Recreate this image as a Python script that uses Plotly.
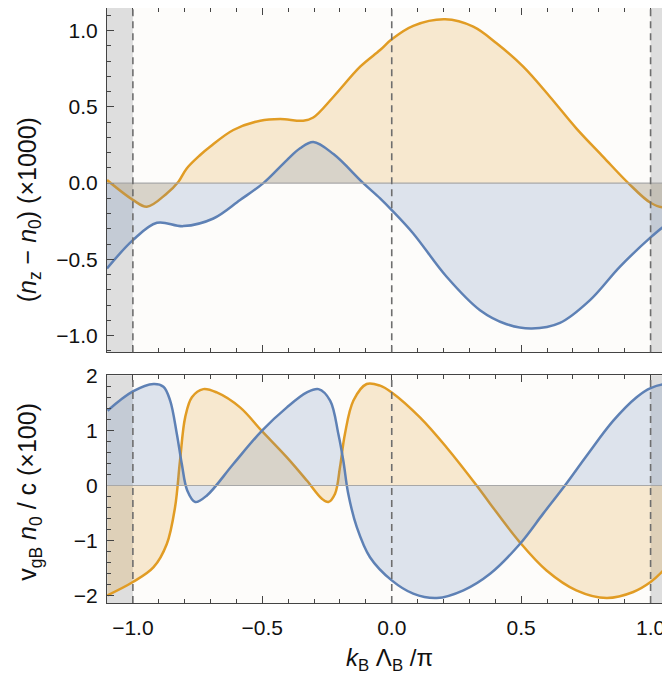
import plotly.graph_objects as go

# ---- data ----
# top panel: (n_z - n_0) x1000
top_orange_x = [-1.1, -1.0, -0.946, -0.869, -0.824, -0.792, -0.74, -0.702, -0.612, -0.508, -0.431,
                -0.342, -0.303, -0.225, -0.122, -0.045, 0.0, 0.083, 0.206, 0.315, 0.405, 0.508,
                0.611, 0.713, 0.817, 0.914, 1.0, 1.055, 1.075]
top_orange_y = [0.02, -0.11, -0.155, -0.068, 0.009, 0.096, 0.184, 0.238, 0.348, 0.409, 0.42,
                0.409, 0.43, 0.566, 0.763, 0.872, 0.942, 1.03, 1.073, 1.025, 0.916, 0.763,
                0.566, 0.359, 0.172, 0.0, -0.129, -0.16, -0.145]

top_blue_x = [-1.1, -1.0, -0.907, -0.805, -0.689, -0.586, -0.496, -0.405, -0.354, -0.303, -0.225,
              -0.11, -0.045, 0.0, 0.083, 0.212, 0.341, 0.444, 0.541, 0.65, 0.766, 0.881,
              1.0, 1.049, 1.075]
top_blue_y = [-0.56, -0.374, -0.26, -0.282, -0.232, -0.111, 0.0, 0.151, 0.228, 0.269, 0.19,
              0.0, -0.1, -0.177, -0.33, -0.614, -0.833, -0.925, -0.953, -0.916, -0.767,
              -0.549, -0.356, -0.287, -0.26]

# bottom panel: v_gB n_0 / c x100
bot_blue_x = [-1.098, -1.0, -0.92, -0.882, -0.856, -0.83, -0.811, -0.79, -0.759, -0.714, -0.612,
              -0.502, -0.405, -0.328, -0.283, -0.238, -0.206, -0.187, -0.168, -0.135, -0.084, 0.0,
              0.083, 0.174, 0.277, 0.38, 0.495, 0.585, 0.669, 0.753, 0.856, 0.946, 1.0, 1.062, 1.075]
bot_blue_y = [1.356, 1.705, 1.84, 1.79, 1.54, 0.93, 0.39, -0.09, -0.30, -0.18, 0.39,
              0.99, 1.416, 1.687, 1.747, 1.54, 0.93, 0.45, -0.15, -0.754, -1.30, -1.72,
              -1.96, -2.04, -1.90, -1.60, -1.06, -0.51, 0.0, 0.54, 1.175, 1.60, 1.765, 1.84, 1.83]

bot_orange_x = [-1.098, -1.0, -0.92, -0.869, -0.837, -0.818, -0.798, -0.772, -0.728, -0.676, -0.586,
                -0.502, -0.405, -0.328, -0.27, -0.245, -0.219, -0.2, -0.181, -0.148, -0.097, -0.045,
                0.0, 0.109, 0.212, 0.328, 0.38, 0.495, 0.598, 0.713, 0.83, 0.933, 1.0, 1.049, 1.075]
bot_orange_y = [-1.99, -1.75, -1.48, -1.06, -0.39, 0.45, 1.235, 1.60, 1.747, 1.687, 1.416,
                0.99, 0.51, 0.09, -0.24, -0.30, -0.15, 0.33, 0.93, 1.54, 1.84, 1.81,
                1.687, 1.235, 0.69, 0.0, -0.33, -1.03, -1.54, -1.90, -2.04, -1.93, -1.75, -1.54, -1.39]

x_ticks = [-1.0, -0.5, 0.0, 0.5, 1.0]
top_y_ticks = [-1.0, -0.5, 0.0, 0.5, 1.0]
bot_y_ticks = [-2, -1, 0, 1, 2]
dashed_x = [-1.0, 0.0, 1.0]

# ---- style ----
BLUE = "#5E81B5"
ORANGE = "#E19C24"
BLUE_FILL = "rgba(94,129,181,0.2)"
ORANGE_FILL = "rgba(225,156,36,0.2)"
XR = [-1.1, 1.075]
FONT = "Liberation Sans, Arial, sans-serif"

fig = go.Figure()

def add(x, y, color, fill, xa, ya):
    fig.add_trace(go.Scatter(x=x, y=y, mode="lines", xaxis=xa, yaxis=ya,
                             line=dict(color=color, width=2.5, shape="spline", smoothing=1.0),
                             fill="tozeroy", fillcolor=fill, hoverinfo="skip", showlegend=False))

add(top_orange_x, top_orange_y, ORANGE, ORANGE_FILL, "x", "y")
add(top_blue_x, top_blue_y, BLUE, BLUE_FILL, "x", "y")
add(bot_orange_x, bot_orange_y, ORANGE, ORANGE_FILL, "x2", "y2")
add(bot_blue_x, bot_blue_y, BLUE, BLUE_FILL, "x2", "y2")

shapes = []
for xr, yr in [("x", "y"), ("x2", "y2")]:
    for x0, x1 in [(-1.2, -1.0), (1.0, 1.2)]:
        shapes.append(dict(type="rect", xref=xr, yref=yr + " domain", x0=x0, x1=x1, y0=0, y1=1,
                           fillcolor="#DEDEDE", line=dict(width=0), layer="below"))
    shapes.append(dict(type="line", xref=xr + " domain", yref=yr, x0=0, x1=1, y0=0, y1=0,
                       line=dict(color="#A8A8A8", width=1.2), layer="above"))
    for xv in dashed_x:
        shapes.append(dict(type="line", xref=xr, yref=yr + " domain", x0=xv, x1=xv, y0=0, y1=1,
                           line=dict(color="#6E6E6E", width=1.6, dash="7px,5px"), layer="above"))

axis_common = dict(showline=True, linecolor="#444444", linewidth=1.2, mirror="allticks",
                   ticks="inside", ticklen=7, tickwidth=1, tickcolor="#444444",
                   showgrid=False, zeroline=False, automargin=False,
                   tickfont=dict(family=FONT, size=21, color="#111111"))
minor01 = dict(ticks="inside", dtick=0.1, ticklen=4, tickcolor="#444444")

fig.update_layout(
    width=662, height=671,
    margin=dict(l=99, r=0, t=0, b=76, autoexpand=False),
    paper_bgcolor="white", plot_bgcolor="#FDFCFA",
    font=dict(family=FONT, color="#111111"),
    shapes=shapes,
    xaxis=dict(domain=[0, 1], range=XR, anchor="y", tickvals=x_ticks, showticklabels=False,
               minor=minor01, **axis_common),
    yaxis=dict(domain=[0.4216, 1], range=[-1.108, 1.1475], anchor="x", tickvals=top_y_ticks,
               tickformat=".1f", ticklabelstandoff=4, minor=minor01, **axis_common),
    xaxis2=dict(domain=[0, 1], range=XR, anchor="y2", tickvals=x_ticks, tickformat=".1f",
                ticklabelstandoff=6, minor=minor01, **axis_common),
    yaxis2=dict(domain=[0, 0.3829], range=[-2.13, 2.0], anchor="x2", tickvals=bot_y_ticks,
                ticklabelstandoff=4,
                minor=dict(ticks="inside", dtick=0.2, ticklen=4, tickcolor="#444444"),
                **axis_common),
    annotations=[
        dict(text="(<i>n</i><sub>z</sub> − <i>n</i><sub>0</sub>) (×1000)", xref="paper", yref="paper",
             x=-0.1385, xanchor="center", y=0.66, yanchor="middle", textangle=-90, showarrow=False,
             font=dict(family=FONT, size=25, color="#111111")),
        dict(text="v<sub>gB</sub> <i>n</i><sub>0</sub> / c (×100)", xref="paper", yref="paper",
             x=-0.1385, xanchor="center", y=0.187, yanchor="middle", textangle=-90, showarrow=False,
             font=dict(family=FONT, size=25, color="#111111")),
        dict(text="<i>k</i><sub>B</sub> Λ<sub>B</sub> /π", xref="paper", yref="paper",
             x=0.501, xanchor="center", y=-0.0947, yanchor="middle", showarrow=False,
             font=dict(family=FONT, size=24, color="#111111")),
    ],
)

fig.write_html("out.html")
